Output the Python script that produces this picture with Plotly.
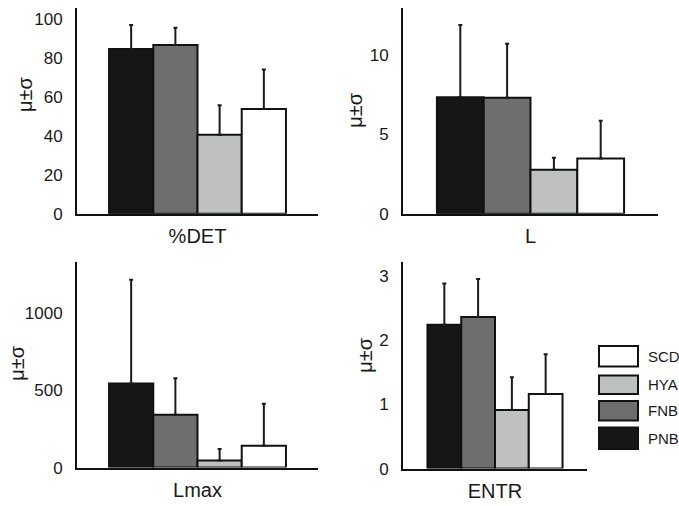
import plotly.graph_objects as go

W, H = 679, 506

groups = ["PNB", "FNB", "HYA", "SCD"]
colors = ["#161616", "#6e6e6e", "#bfc1c0", "#ffffff"]
measures = ["%DET", "L", "Lmax", "ENTR"]

# mean and standard deviation per group, for each recurrence measure
det_mean = [84.8, 86.9, 40.6, 53.9]
det_sd = [12.3, 8.9, 15.3, 20.3]
l_mean = [7.36, 7.32, 2.77, 3.49]
l_sd = [4.56, 3.41, 0.76, 2.38]
lmax_mean = [544, 342, 46, 141]
lmax_sd = [671, 236, 74, 272]
entr_mean = [2.24, 2.36, 0.91, 1.16]
entr_sd = [0.64, 0.59, 0.51, 0.62]

means = [det_mean, l_mean, lmax_mean, entr_mean]
sds = [det_sd, l_sd, lmax_sd, entr_sd]

y_ranges = [[0, 106], [0, 13.0], [0, 1331], [0, 3.22]]
y_ticks = [[0, 20, 40, 60, 80, 100], [0, 5, 10], [0, 500, 1000], [0, 1, 2, 3]]

# panel boxes in pixels: (left, right, top, bottom)
boxes = [(77, 318, 8, 218), (403, 658, 8, 218), (77, 318, 267, 477), (403, 587, 267, 478)]
ytitle_pos = [(25, 96), (355, 112), (17, 370), (365, 362)]

FONT = "Liberation Sans, Arial, sans-serif"
INK = "#1a1a1a"


def px_x(x):
    return x / W


def px_y(y):
    return 1 - y / H


fig = go.Figure()
layout = dict(
    width=W, height=H,
    margin=dict(l=0, r=0, t=0, b=0),
    paper_bgcolor="white", plot_bgcolor="white",
    barmode="group", bargap=0.266, bargroupgap=0,
    showlegend=False,
    font=dict(family=FONT, size=17, color=INK),
)

annotations = []
shapes = []

for i, m in enumerate(measures):
    suffix = "" if i == 0 else str(i + 1)
    xa, ya = "x" + suffix, "y" + suffix
    for g, c, v, s in zip(groups, colors, means[i], sds[i]):
        fig.add_trace(go.Bar(
            x=[m], y=[v], name=g,
            marker=dict(color=c, line=dict(color="#111111", width=2)),
            error_y=dict(type="data", symmetric=False, array=[s], arrayminus=[0],
                         color=INK, thickness=2, width=2),
            xaxis=xa, yaxis=ya, showlegend=False,
        ))
    l, r, t, b = boxes[i]
    layout["xaxis" + suffix] = dict(
        domain=[px_x(l), px_x(r)], anchor=ya,
        showline=True, linecolor="#111111", linewidth=2,
        showgrid=False, zeroline=False,
        ticks="outside", ticklen=3, tickcolor="rgba(0,0,0,0)",
        tickfont=dict(size=20, family=FONT, color=INK),
    )
    layout["yaxis" + suffix] = dict(
        domain=[px_y(b), px_y(t)], anchor=xa,
        range=y_ranges[i], tickvals=y_ticks[i],
        showline=True, linecolor="#111111", linewidth=2,
        showgrid=False, zeroline=False,
        ticks="outside", ticklen=9, tickcolor="rgba(0,0,0,0)",
        tickfont=dict(size=17, family=FONT, color=INK),
    )
    tx, ty = ytitle_pos[i]
    annotations.append(dict(
        x=px_x(tx), y=px_y(ty), xref="paper", yref="paper",
        text="μ±σ", textangle=-90, showarrow=False,
        font=dict(size=20, family=FONT, color=INK),
        xanchor="center", yanchor="middle",
    ))

# legend key, listed top to bottom in reverse group order
key_rows = [(353, 374), (383, 402), (409, 429), (436, 458)]
for (top, bot), g, c in zip(key_rows, groups[::-1], colors[::-1]):
    shapes.append(dict(
        type="rect", xref="paper", yref="paper",
        x0=px_x(599), x1=px_x(638), y0=px_y(bot), y1=px_y(top),
        fillcolor=c, line=dict(color="#111111", width=2),
    ))
    annotations.append(dict(
        x=px_x(646), y=px_y((top + bot) / 2), xref="paper", yref="paper",
        text=g, showarrow=False, xanchor="left", yanchor="middle",
        font=dict(size=15, family=FONT, color=INK),
    ))

layout["annotations"] = annotations
layout["shapes"] = shapes
fig.update_layout(**layout)
fig.write_html("out.html")
